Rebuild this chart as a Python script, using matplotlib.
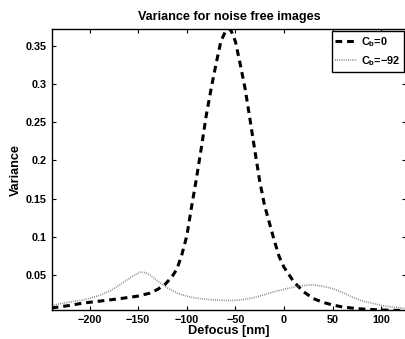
import matplotlib
matplotlib.use('Agg')
import matplotlib.pyplot as plt

# 폰트 설정 (MATLAB 스타일 굵은 글씨)
plt.rcParams['font.family'] = ['Liberation Sans', 'DejaVu Sans']
plt.rcParams['font.weight'] = 'bold'
plt.rcParams['mathtext.fontset'] = 'custom'
plt.rcParams['mathtext.rm'] = 'Liberation Sans:bold'
plt.rcParams['mathtext.default'] = 'rm'

# C_b = 0 곡선
defocus_a = [-239, -234, -220, -207, -190, -179, -165, -151, -138, -130, -122, -115,
             -110, -105, -100, -95, -90, -85, -80, -75, -70, -65, -60, -55,
             -50, -45, -40, -35, -30, -25, -20, -15, -10, -5, 0, 10, 20, 30,
             40, 50, 60, 70, 80, 90, 100, 110, 125.5]
var_a = [0.0068, 0.0075, 0.0100, 0.0130, 0.0155, 0.0172, 0.0195, 0.0220, 0.0260, 0.0310,
         0.0380, 0.0480, 0.0580, 0.0770, 0.1010, 0.1400, 0.1770, 0.2170, 0.2590, 0.2940,
         0.3260, 0.3560, 0.3700, 0.3720, 0.3560, 0.3260, 0.2940, 0.2540, 0.2130, 0.1730,
         0.1410, 0.1180, 0.0950, 0.0740, 0.0600, 0.0410, 0.0280, 0.0190, 0.0140, 0.0105,
         0.0080, 0.0065, 0.0053, 0.0046, 0.0040, 0.0035, 0.0033]

# C_b = -92 곡선
defocus_b = [-239, -220, -207, -190, -179, -170, -162, -155, -148, -143, -138, -132,
             -127, -120, -110, -100, -90, -80, -70, -60, -50, -40, -30, -20, -10,
             0, 10, 20, 30, 40, 50, 60, 70, 80, 90, 100, 110, 125.5]
var_b = [0.0100, 0.0145, 0.0170, 0.0230, 0.0290, 0.0360, 0.0430, 0.0490, 0.0535, 0.0530,
         0.0500, 0.0440, 0.0390, 0.0330, 0.0260, 0.0220, 0.0195, 0.0180, 0.0170, 0.0165,
         0.0165, 0.0180, 0.0205, 0.0240, 0.0280, 0.0310, 0.0340, 0.0360, 0.0370, 0.0350,
         0.0320, 0.0270, 0.0210, 0.0160, 0.0130, 0.0100, 0.0080, 0.0060]

x_ticks = [-200, -150, -100, -50, 0, 50, 100]
y_ticks = [0.05, 0.1, 0.15, 0.2, 0.25, 0.3, 0.35]

fig = plt.figure(figsize=(4.06, 3.39), dpi=100)
ax = fig.add_axes([0.1273, 0.0841, 0.8727, 0.8295])

ax.plot(defocus_a, var_a, color='black', linestyle=(0, (2.2, 1.6)), linewidth=2.2,
        label=r'C$_b$=0')
ax.plot(defocus_b, var_b, color='#7a7a7a', linestyle=(0, (0.5, 0.8)), linewidth=1.2,
        label=r'C$_b$=−92')

ax.set_xlim(-239, 125.5)
ax.set_ylim(0.0033, 0.372)
ax.set_xticks(x_ticks)
ax.set_xticklabels(['−200', '−150', '−100', '−50', '0', '50', '100'])
ax.set_yticks(y_ticks)
ax.set_yticklabels(['0.05', '0.1', '0.15', '0.2', '0.25', '0.3', '0.35'])
ax.tick_params(direction='in', top=True, right=True, labelsize=7.8, length=3, width=0.8)
for s in ax.spines.values():
    s.set_linewidth(1.0)

ax.set_title('Variance for noise free images', fontsize=9.1, fontweight='bold', pad=7)
ax.set_xlabel('Defocus [nm]', fontsize=9.2, fontweight='bold', labelpad=0)
ax.set_ylabel('Variance', fontsize=9.1, fontweight='bold', labelpad=3)

leg = ax.legend(loc='upper right', fontsize=7.8, handlelength=2.0, handletextpad=0.4,
                borderaxespad=0.15, borderpad=0.35, labelspacing=0.5, fancybox=False,
                framealpha=1)
leg.get_frame().set_edgecolor('black')
leg.get_frame().set_linewidth(1.0)

fig.savefig('out.png', dpi=100)
